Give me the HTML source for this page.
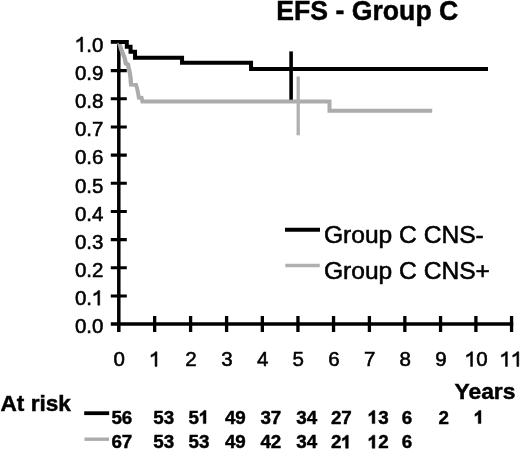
<!DOCTYPE html>
<html><head><meta charset="utf-8">
<style>
html,body{margin:0;padding:0;background:#fff;width:520px;height:450px;overflow:hidden}
svg{display:block;will-change:transform}
text{font-family:"Liberation Sans",sans-serif;fill:#000}
.r{stroke:#000;stroke-width:0.55px}
.b{font-weight:bold;stroke:#000;stroke-width:0.45px}
.rp{fill:#000;stroke:#000;stroke-width:0.55px;stroke-linejoin:round}
.bp{fill:#000;stroke:#000;stroke-width:0.45px;stroke-linejoin:round}
</style></head><body>
<svg width="520" height="450" viewBox="0 0 520 450">
<rect width="520" height="450" fill="#fff"/>
<text class="b" x="276.3" y="20.3" font-size="26.8" textLength="182" lengthAdjust="spacingAndGlyphs">EFS - Group C</text>
<text class="r" x="86.30 92.00" y="51.70" font-size="20.5">.0</text>
<path class="rp" d="M80.75,51.70 L82.59,51.70 L82.59,37.02 L81.26,37.02 Q79.72,39.09 76.65,40.43 L76.65,42.37 Q79.11,41.66 80.75,40.12Z"/>
<text class="r" x="74.91 86.30 92.00" y="79.86" font-size="20.5">0.9</text>
<text class="r" x="74.91 86.30 92.00" y="108.02" font-size="20.5">0.8</text>
<text class="r" x="74.91 86.30 92.00" y="136.18" font-size="20.5">0.7</text>
<text class="r" x="74.91 86.30 92.00" y="164.34" font-size="20.5">0.6</text>
<text class="r" x="74.91 86.30 92.00" y="192.50" font-size="20.5">0.5</text>
<text class="r" x="74.91 86.30 92.00" y="220.66" font-size="20.5">0.4</text>
<text class="r" x="74.91 86.30 92.00" y="248.82" font-size="20.5">0.3</text>
<text class="r" x="74.91 86.30 92.00" y="276.98" font-size="20.5">0.2</text>
<text class="r" x="74.91 86.30" y="305.14" font-size="20.5">0.</text>
<path class="rp" d="M97.84,305.14 L99.69,305.14 L99.69,290.46 L98.36,290.46 Q96.82,292.53 93.74,293.87 L93.74,295.81 Q96.20,295.09 97.84,293.56Z"/>
<text class="r" x="74.91 86.30 92.00" y="333.30" font-size="20.5">0.0</text>
<text class="r" x="113.40" y="366.40" font-size="20.5">0</text>
<path class="rp" d="M155.09,366.40 L156.94,366.40 L156.94,351.72 L155.61,351.72 Q154.07,353.79 150.99,355.12 L150.99,357.07 Q153.45,356.35 155.09,354.82Z"/>
<text class="r" x="185.20" y="366.40" font-size="20.5">2</text>
<text class="r" x="221.20" y="366.40" font-size="20.5">3</text>
<text class="r" x="256.95" y="366.40" font-size="20.5">4</text>
<text class="r" x="292.55" y="366.40" font-size="20.5">5</text>
<text class="r" x="328.15" y="366.40" font-size="20.5">6</text>
<text class="r" x="364.00" y="366.40" font-size="20.5">7</text>
<text class="r" x="399.45" y="366.40" font-size="20.5">8</text>
<text class="r" x="435.15" y="366.40" font-size="20.5">9</text>
<text class="r" x="476.20" y="366.40" font-size="20.5">0</text>
<path class="rp" d="M470.64,366.40 L472.49,366.40 L472.49,351.72 L471.16,351.72 Q469.62,353.79 466.54,355.12 L466.54,357.07 Q469.00,356.35 470.64,354.82Z"/>
<path class="rp" d="M505.49,366.40 L507.34,366.40 L507.34,351.72 L506.01,351.72 Q504.47,353.79 501.39,355.12 L501.39,357.07 Q503.85,356.35 505.49,354.82Z"/>
<path class="rp" d="M516.89,366.40 L518.74,366.40 L518.74,351.72 L517.40,351.72 Q515.87,353.79 512.79,355.12 L512.79,357.07 Q515.25,356.35 516.89,354.82Z"/>
<g stroke="#000" fill="none" stroke-linecap="butt">
<path d="M118.8,40.8 V332" stroke-width="3.5"/>
<path d="M110.8,324.1 H513.2" stroke-width="3.5"/>
<path stroke-width="3.8" d="M110.8,41.9H126.8"/>
<path stroke-width="3.1" d="M110.8,70.66H126.8 M110.8,98.82H126.8 M110.8,126.98H126.8 M110.8,155.14H126.8 M110.8,183.30H126.8 M110.8,211.46H126.8 M110.8,239.62H126.8 M110.8,267.78H126.8 M110.8,295.94H126.8"/>
<path stroke-width="3.3" d="M154.65,315.9V332 M190.60,315.9V332 M226.60,315.9V332 M262.35,315.9V332 M297.95,315.9V332 M333.55,315.9V332 M369.40,315.9V332 M404.85,315.9V332 M440.55,315.9V332 M475.90,315.9V332 M511.55,315.9V332"/>
</g>
<g stroke="#acacac" fill="none" stroke-width="4.0" stroke-linejoin="round">
<path d="M119.3,42.5 L121,49 L123.5,55 L124.8,58.5 L125.8,63.5 L128,64.5 L128.7,68 L129.8,72.7 L130.6,78.5 L131,84.5" stroke-width="4.3" stroke="#aaaaaa"/>
<path d="M131,82.5 L131,84.5 L136,84.8 L137.3,89.3 L138.1,93.3 L138.8,97.6 L141.6,97.8 L142.4,101.5 H329.5 V110.7 H432.2" stroke-linejoin="miter"/>
<path d="M298.2,76.5 V135.3" stroke="#b0b0b0" stroke-width="3.3"/>
</g>
<g stroke="#000" fill="none" stroke-width="4.0">
<path d="M118.8,41.9 H126.8 V46.7 H130.55 V51.75 H135.05 V57.8 H182.05 V62.7 H251.05 V68.9 H488"/>
<path d="M291.1,51.4 V99.7" stroke-width="3.6"/>
</g>
<path d="M285,229.8 H320" stroke="#000" stroke-width="4"/>
<path d="M285.3,265.5 H319.8" stroke="#b0b0b0" stroke-width="3.6"/>
<text class="r" x="323.9" y="243.2" font-size="24.6">Group C CNS-</text>
<text class="r" x="323.9" y="278.6" font-size="24.6">Group C CNS+</text>
<text class="b" x="0.45" y="410.6" font-size="22.2" textLength="70.5" lengthAdjust="spacingAndGlyphs">At risk</text>
<text class="b" x="454.5" y="399.1" font-size="21.8" textLength="60.9" lengthAdjust="spacingAndGlyphs">Years</text>
<path d="M84.2,413.2 H109.2" stroke="#000" stroke-width="3.8"/>
<path d="M84.5,439.2 H109" stroke="#acacac" stroke-width="3.4"/>
<text class="b" x="111.40 121.85" y="423.60" font-size="18.8">56</text>
<text class="b" x="153.20 163.65" y="423.60" font-size="18.8">53</text>
<text class="b" x="188.60" y="423.60" font-size="18.8">5</text>
<path class="bp" d="M203.28,423.60 L206.01,423.60 L206.01,410.44 L203.98,410.44 Q202.62,412.51 199.99,413.92 L199.99,416.36 Q201.87,415.52 203.28,414.39Z"/>
<text class="b" x="224.90 235.35" y="423.60" font-size="18.8">49</text>
<text class="b" x="260.40 270.85" y="423.60" font-size="18.8">37</text>
<text class="b" x="296.20 306.65" y="423.60" font-size="18.8">34</text>
<text class="b" x="330.90 341.35" y="423.60" font-size="18.8">27</text>
<text class="b" x="378.35" y="423.60" font-size="18.8">3</text>
<path class="bp" d="M372.13,423.60 L374.86,423.60 L374.86,410.44 L372.83,410.44 Q371.47,412.51 368.84,413.92 L368.84,416.36 Q370.72,415.52 372.13,414.39Z"/>
<text class="b" x="401.70" y="423.60" font-size="18.8">6</text>
<text class="b" x="438.60" y="423.60" font-size="18.8">2</text>
<path class="bp" d="M478.23,423.60 L480.96,423.60 L480.96,410.44 L478.93,410.44 Q477.57,412.51 474.94,413.92 L474.94,416.36 Q476.82,415.52 478.23,414.39Z"/>
<text class="b" x="111.40 121.85" y="448.30" font-size="18.8">67</text>
<text class="b" x="153.20 163.65" y="448.30" font-size="18.8">53</text>
<text class="b" x="188.60 199.05" y="448.30" font-size="18.8">53</text>
<text class="b" x="224.90 235.35" y="448.30" font-size="18.8">49</text>
<text class="b" x="260.40 270.85" y="448.30" font-size="18.8">42</text>
<text class="b" x="296.20 306.65" y="448.30" font-size="18.8">34</text>
<text class="b" x="330.90" y="448.30" font-size="18.8">2</text>
<path class="bp" d="M345.58,448.30 L348.31,448.30 L348.31,435.14 L346.28,435.14 Q344.92,437.21 342.29,438.62 L342.29,441.06 Q344.17,440.22 345.58,439.09Z"/>
<text class="b" x="378.35" y="448.30" font-size="18.8">2</text>
<path class="bp" d="M372.13,448.30 L374.86,448.30 L374.86,435.14 L372.83,435.14 Q371.47,437.21 368.84,438.62 L368.84,441.06 Q370.72,440.22 372.13,439.09Z"/>
<text class="b" x="401.70" y="448.30" font-size="18.8">6</text>
</svg>
</body></html>
